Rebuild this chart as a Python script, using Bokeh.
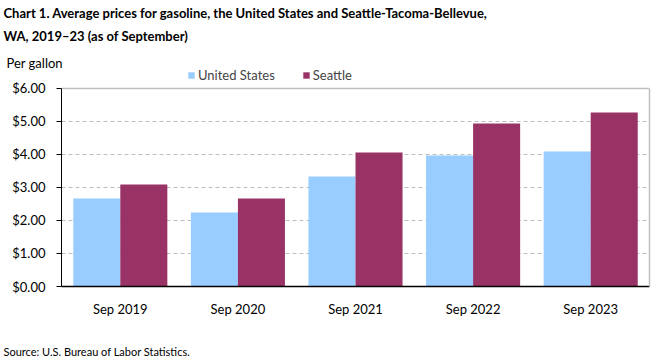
from bokeh.plotting import figure
from bokeh.models import (FactorRange, Range1d, Title, Legend, LegendItem, LinearAxis, Grid,
                          NumeralTickFormatter, FixedTicker, ColumnDataSource)
from bokeh.transform import dodge
from bokeh.embed import file_html
from bokeh.resources import INLINE

categories = ["Sep 2019", "Sep 2020", "Sep 2021", "Sep 2022", "Sep 2023"]
us_prices = [2.67, 2.24, 3.33, 3.97, 4.09]
seattle_prices = [3.09, 2.67, 4.06, 4.94, 5.27]
y_ticks = [0, 1, 2, 3, 4, 5, 6]
series_names = ["United States", "Seattle"]
series_colors = ["#99CCFF", "#993366"]

FONT = "Lato"
Y_MAX = 6
Y_TOP = 6.636   # frame extends above $6.00 to hold the legend

src = ColumnDataSource(dict(cat=categories, us=us_prices, sea=seattle_prices))
p = figure(x_range=FactorRange(*categories), y_range=Range1d(0, Y_TOP),
           width=661, height=361, output_backend="svg", toolbar_location=None,
           min_border_left=61, min_border_right=12, min_border_top=67, min_border_bottom=75)
p.background_fill_color = "white"
p.border_fill_color = "white"
p.outline_line_color = None

r_us = p.vbar(x=dodge("cat", -0.2, range=p.x_range), top="us", width=0.4, source=src,
              fill_color=series_colors[0], line_color=None)
r_sea = p.vbar(x=dodge("cat", 0.2, range=p.x_range), top="sea", width=0.4, source=src,
               fill_color=series_colors[1], line_color=None)

p.xgrid.visible = False
p.ygrid.ticker = FixedTicker(ticks=y_ticks[1:-1])
p.ygrid.grid_line_color = "#BFBFBF"
p.ygrid.grid_line_dash = "4 3"
p.ygrid.grid_line_width = 1
p.add_layout(Grid(dimension=1, ticker=FixedTicker(ticks=[Y_MAX]),
                  grid_line_color="#BFBFBF", grid_line_width=1.5))

yax = p.left[0]
yax.ticker = FixedTicker(ticks=y_ticks)
yax.bounds = (0, Y_MAX)
yax.formatter = NumeralTickFormatter(format="$0.00")
yax.major_label_text_font = FONT
yax.major_label_text_font_size = "13px"
yax.major_label_text_color = "black"
yax.major_tick_out = 5
yax.major_tick_in = 0
yax.minor_tick_line_color = None
yax.axis_line_color = "black"
yax.major_tick_line_color = "black"
yax.major_label_standoff = 11

rax = LinearAxis(ticker=FixedTicker(ticks=[]), bounds=(0, Y_MAX),
                 axis_line_color="#BFBFBF", axis_line_width=1.5,
                 major_tick_line_color=None, minor_tick_line_color=None,
                 major_label_text_font_size="0px")
p.add_layout(rax, "right")

xax = p.below[0]
xax.major_label_text_font = FONT
xax.major_label_text_font_size = "13px"
xax.major_label_text_color = "black"
xax.major_tick_line_color = None
xax.axis_line_color = "black"
xax.axis_line_width = 1.5
xax.major_label_standoff = 8

legend = Legend(items=[LegendItem(label=series_names[0], renderers=[r_us]),
                       LegendItem(label=series_names[1], renderers=[r_sea])],
                orientation="horizontal", location=(126, 203),
                label_text_font=FONT, label_text_font_size="13px",
                glyph_width=8, glyph_height=8, label_standoff=3, spacing=27,
                padding=0, margin=0, label_height=13,
                background_fill_alpha=0, border_line_color=None)
p.add_layout(legend)

def title(text, size, bold, standoff, offset, where="above"):
    t = Title(text=text, align="left", offset=offset, text_font=FONT,
              text_font_size=size, text_font_style="bold" if bold else "normal",
              text_color="black", standoff=standoff)
    p.add_layout(t, where)
    return t

title("Per gallon", "13px", False, -7, -55)
title("WA, 2019\u201323 (as of September)", "13px", True, 26, -58)
title("Chart 1. Average prices for gasoline, the United States and Seattle-Tacoma-Bellevue,", "13px", True, -17, -58)

src_title = title("Source: U.S. Bureau of Labor Statistics.", "11px", False, 0, -58, "below")
try:
    src_title.padding = {"top": 23, "right": 0, "bottom": 0, "left": 0}
except Exception:
    try:
        src_title.padding = (23, 0, 0, 0)
    except Exception:
        src_title.standoff = 21

open("out.html", "w").write(file_html(p, INLINE))
